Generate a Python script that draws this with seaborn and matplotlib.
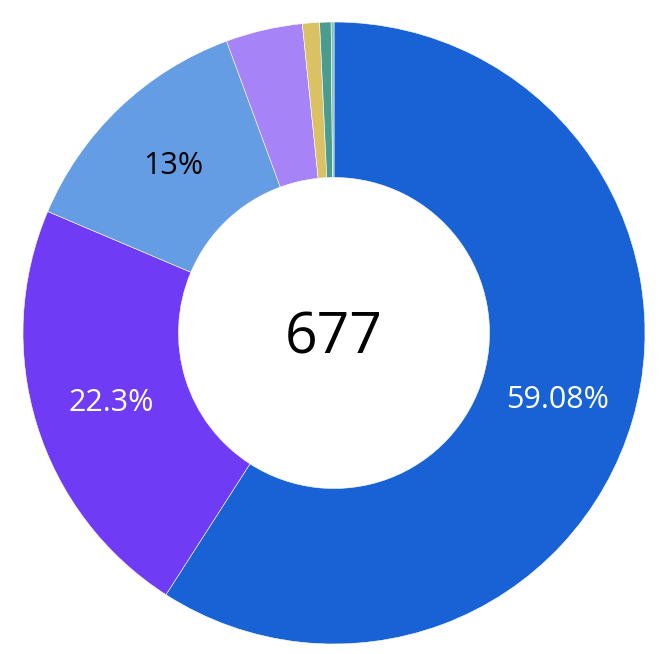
import matplotlib
matplotlib.use("Agg")
import matplotlib.pyplot as plt
import seaborn as sns
import numpy as np

categories = ["A", "B", "C", "D", "E", "F", "G"]
counts = [400, 151, 88, 27, 6, 4, 1]
colors = ["#1862d6", "#6f3bf5", "#659de4", "#a683f7", "#dac264", "#4a9c8e", "#7fc2ae"]
total = sum(counts)

sns.set_style("white")
plt.rcParams["font.family"] = ["Open Sans", "DejaVu Sans"]

fig = plt.figure(figsize=(6.66, 6.54), dpi=100)
ax = fig.add_axes([0, 0, 1, 1])

wedges, _ = ax.pie(counts, colors=colors, startangle=90, counterclock=False,
                   radius=1.0, wedgeprops=dict(width=0.5, edgecolor="white", linewidth=0.4))

# percentage labels on the bigger slices
for w, c, col in zip(wedges, counts, colors):
    pct = c / total * 100
    if pct < 10:
        continue
    ang = np.deg2rad((w.theta1 + w.theta2) / 2)
    txt = f"{pct:.2f}".rstrip("0").rstrip(".") + "%"
    tc = "black" if col == "#659de4" else "white"
    ax.text(0.75 * np.cos(ang), 0.75 * np.sin(ang) - 0.005, txt, ha="center", va="center",
            fontsize=22, color=tc)

ax.text(0, -0.02, str(total), ha="center", va="center", fontsize=41, color="black")

r = 311
ax.set_xlim(-334 / r, (666 - 334) / r)
ax.set_ylim(-(654 - 333) / r, 333 / r)
ax.set_aspect("auto")
ax.axis("off")

fig.savefig("out.png", dpi=100)
